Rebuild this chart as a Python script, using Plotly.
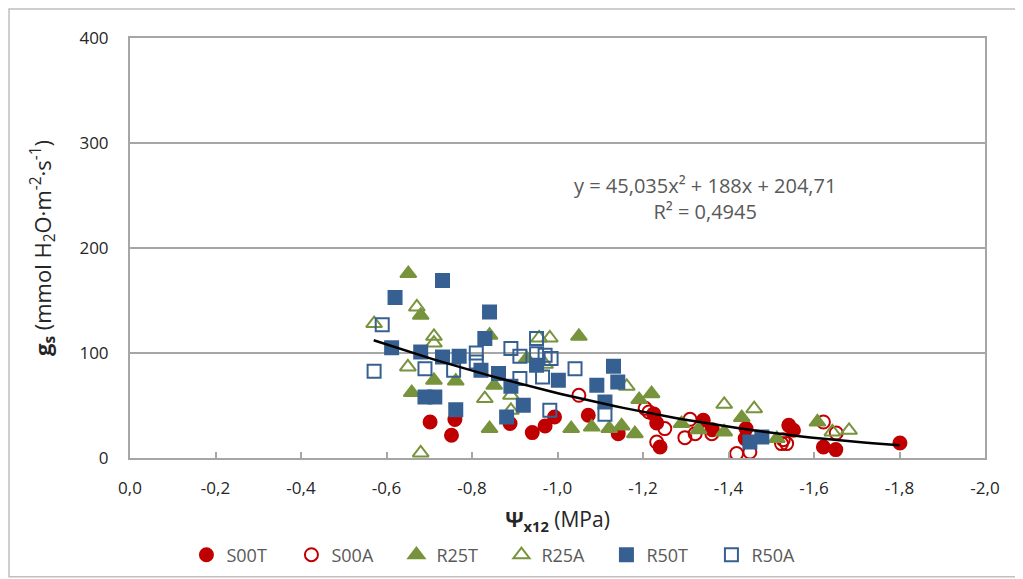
import numpy as np
import plotly.graph_objects as go

# Psi x12 (MPa) and gs (mmol H2O m-2 s-1)
s00t_x = [-0.702, -0.760, -0.752, -0.889, -0.993, -0.971, -0.941, -1.072, -1.142, -1.232, -1.240,
          -1.225, -1.341, -1.362, -1.441, -1.439, -1.541, -1.552, -1.622, -1.651, -1.801]
s00t_y = [34.3, 36.6, 21.6, 32.8, 39.0, 30.5, 24.2, 40.7, 23.2, 33.3, 10.5,
          42.0, 35.9, 27.0, 28.0, 18.5, 31.1, 26.4, 10.5, 8.0, 14.3]

s00a_x = [-1.050, -1.205, -1.214, -1.232, -1.251, -1.310, -1.298, -1.322, -1.361, -1.419, -1.450,
          -1.524, -1.528, -1.536, -1.622, -1.652]
s00a_y = [59.7, 47.3, 43.8, 15.2, 28.0, 36.8, 19.4, 23.2, 23.2, 4.2, 5.7,
          13.7, 17.5, 13.7, 34.3, 23.8]

r25t_x = [-0.651, -0.680, -0.841, -0.711, -0.762, -0.852, -0.659, -0.841, -0.928, -1.050, -1.191,
          -1.220, -1.032, -1.080, -1.121, -1.150, -1.181, -1.290, -1.330, -1.390, -1.431, -1.513, -1.608]
r25t_y = [175.6, 135.9, 116.9, 74.0, 73.3, 69.2, 62.3, 28.0, 94.7, 115.9, 55.6,
          61.3, 28.0, 29.5, 28.0, 30.5, 23.2, 32.8, 27.0, 24.8, 38.5, 18.5, 34.3]

r25a_x = [-0.671, -0.571, -0.711, -0.711, -0.650, -0.830, -0.680, -0.957, -0.982, -0.971, -1.162,
          -0.891, -0.891, -1.390, -1.460, -1.643, -1.682]
r25a_y = [143.8, 128.0, 115.9, 109.5, 86.7, 56.6, 4.8, 114.3, 114.3, 89.2, 68.3,
          59.7, 45.4, 51.1, 47.0, 24.8, 26.4]

r50t_x = [-0.731, -0.620, -0.841, -0.830, -0.612, -0.680, -0.731, -0.770, -0.821, -0.862, -0.690,
          -0.713, -0.762, -0.881, -0.951, -1.002, -1.131, -1.092, -1.141, -0.891, -0.920, -1.111,
          -1.450, -1.478]
r50t_y = [169.0, 152.8, 139.0, 113.7, 105.0, 101.0, 96.2, 96.9, 83.5, 80.4, 58.0,
          58.0, 46.0, 39.0, 88.3, 74.0, 87.3, 69.2, 72.4, 68.3, 50.2, 53.3,
          15.2, 20.0]

r50a_x = [-0.590, -0.810, -0.810, -0.571, -0.690, -0.757, -0.951, -0.891, -0.912, -0.951, -0.971,
          -0.985, -0.965, -0.912, -1.041, -1.111, -0.982]
r50a_y = [127.0, 100.0, 91.4, 82.6, 85.1, 83.5, 113.7, 104.2, 96.9, 99.4, 97.8,
          94.7, 77.1, 75.6, 85.1, 41.6, 45.4]

# ejes
x_ticks = [0, -0.2, -0.4, -0.6, -0.8, -1.0, -1.2, -1.4, -1.6, -1.8, -2.0]
x_labels = ["0,0", "-0,2", "-0,4", "-0,6", "-0,8", "-1,0", "-1,2", "-1,4", "-1,6", "-1,8", "-2,0"]

# línea de tendencia polinómica (ecuación del gráfico)
coef = [45.035, 188, 204.71]
trend_x = np.linspace(-0.57, -1.8, 60)
trend_y = np.polyval(coef, trend_x)

RED = "#C00000"
GREEN = "#77933C"
BLUE = "#376092"
GRAY = "#595959"
TXT = "#262626"

series = [
    ("S00T", s00t_x, s00t_y, "circle", RED, 13),
    ("S00A", s00a_x, s00a_y, "circle-open", RED, 13),
    ("R25T", r25t_x, r25t_y, "triangle-up", GREEN, 14),
    ("R25A", r25a_x, r25a_y, "triangle-up-open", GREEN, 14),
    ("R50T", r50t_x, r50t_y, "square", BLUE, 13),
    ("R50A", r50a_x, r50a_y, "square-open", BLUE, 13),
]

fig = go.Figure()
for name, xs, ys, sym, col, sz in series:
    fig.add_trace(go.Scatter(x=xs, y=ys, mode="markers", name=name,
                             marker=dict(symbol=sym, color=col, size=sz,
                                         line=dict(width=2, color=col))))

fig.add_trace(go.Scatter(x=trend_x, y=trend_y, mode="lines", showlegend=False,
                         line=dict(color="black", width=2.5)))

fig.add_annotation(x=0.6725, y=0.619, xref="paper", yref="paper", showarrow=False,
                   xanchor="center", yanchor="middle",
                   text="y = 45,035x² + 188x + 204,71<br>R² = 0,4945", align="center",
                   font=dict(size=20, color=GRAY))

# borde exterior del gráfico
fig.add_shape(type="rect", xref="paper", yref="paper", x0=-0.1415, x1=1.04, y0=-0.283, y1=1.069,
              line=dict(color="#BFBFBF", width=1.5))

fig.update_layout(
    width=1015, height=571,
    margin=dict(l=122, r=38, t=30, b=121, autoexpand=False),
    paper_bgcolor="white", plot_bgcolor="white",
    font=dict(family="Open Sans", color=TXT, size=17),
    legend=dict(orientation="h", x=0.066, xanchor="left", y=-0.231, yanchor="middle",
                font=dict(size=18, color=GRAY), entrywidth=60, itemclick=False),
    xaxis=dict(range=[0, -2], tickvals=x_ticks, ticktext=x_labels, showgrid=False, zeroline=False,
               showline=True, linecolor="#A6A6A6", linewidth=2, mirror=True, automargin=False,
               ticks="inside", ticklen=6, tickcolor="#A6A6A6", tickwidth=2,
               ticklabelstandoff=14,
               title=dict(text="<b>Ψ<sub>x12</sub></b> (MPa)", font=dict(size=21, color=TXT), standoff=14)),
    yaxis=dict(range=[0, 400], dtick=100, showgrid=True, gridcolor="#A6A6A6", gridwidth=1.5,
               zeroline=False, showline=True, linecolor="#A6A6A6", linewidth=2, mirror=True,
               automargin=False, ticks="", ticklabelstandoff=16,
               title=dict(text="<b>g<sub>s</sub></b> (mmol H<sub>2</sub>O·m<sup>-2</sup>·s<sup>-1</sup>)",
                          font=dict(size=22, color=TXT), standoff=22)),
)

fig.write_html("out.html")
